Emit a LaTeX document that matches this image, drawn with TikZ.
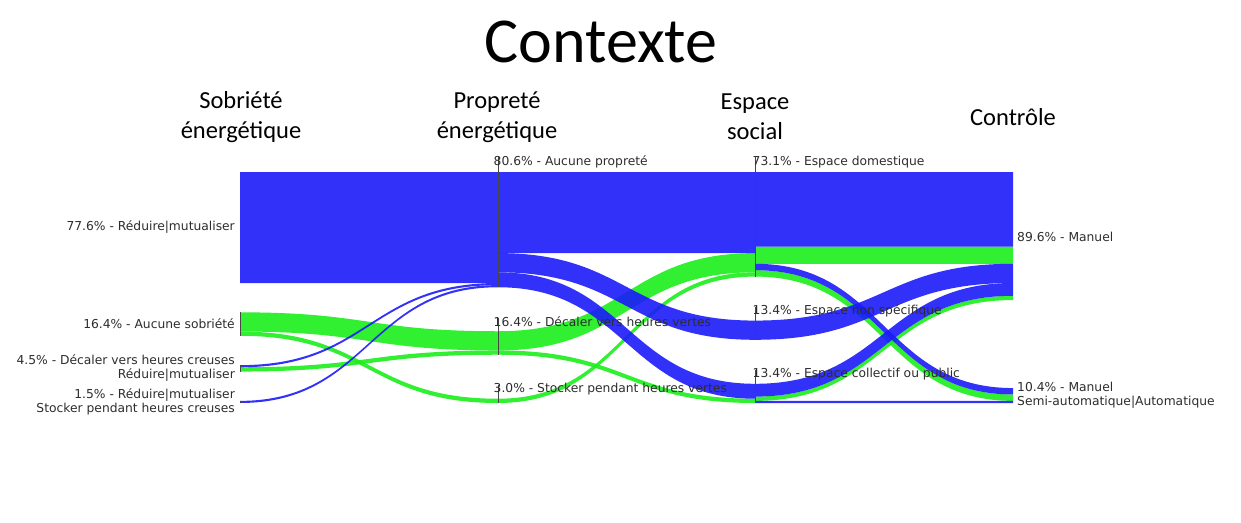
\documentclass[tikz,border=0pt]{standalone}
\usepackage{fontspec}
\setmainfont{DejaVu Sans}
\newfontfamily\headfont{Carlito}
\definecolor{pblue}{RGB}{27,27,250}
\definecolor{pgreen}{RGB}{27,238,27}
\definecolor{labgray}{RGB}{45,45,45}
\definecolor{axgray}{RGB}{70,70,70}
\newcommand{\flowband}[7]{%
  \fill[#1] (#2,#3) .. controls ({(#2+#5)/2},#3) and ({(#2+#5)/2},#6) .. (#5,#6)
     -- (#5,#7) .. controls ({(#2+#5)/2},#7) and ({(#2+#5)/2},#4) .. (#2,#4) -- cycle;}
\begin{document}
\begin{tikzpicture}[x=1pt,y=-1pt,
  bandB/.style={fill=pblue,fill opacity=0.9},
  bandG/.style={fill=pgreen,fill opacity=0.9},
  catline/.style={draw=axgray,line width=1pt},
  catlab/.style={font=\fontsize{12.3}{14}\selectfont,text=labgray,inner sep=0pt},
  head/.style={font=\headfont\fontsize{24.5}{30}\selectfont,align=center,inner sep=0pt}]
\useasboundingbox[fill=white] (0,0) rectangle (1241,522);

% green ribbons
\flowband{bandG}{240}{312.33}{331.54}{498}{331.25}{350.46}
\flowband{bandG}{240}{331.54}{335.81}{498}{398.73}{403.0}
\flowband{bandG}{240}{367.27}{371.54}{498}{350.46}{354.73}
\flowband{bandG}{498}{331.25}{350.46}{755}{253.10}{272.31}
\flowband{bandG}{498}{350.46}{354.73}{755}{398.73}{403.0}
\flowband{bandG}{498}{398.73}{403.0}{755}{272.31}{276.58}
\flowband{bandG}{755}{246.70}{263.78}{1013}{246.70}{263.78}
\flowband{bandG}{755}{270.18}{276.58}{1013}{394.46}{400.87}
\flowband{bandG}{755}{396.60}{400.87}{1013}{295.80}{300.06}
% blue ribbons
\flowband{bandB}{240}{172}{283.0}{498}{172}{283.0}
\flowband{bandB}{240}{365.14}{367.27}{498}{283.0}{285.12}
\flowband{bandB}{240}{400.87}{403.0}{498}{285.12}{287.25}
\flowband{bandB}{498}{172}{253.10}{755}{172}{253.10}
\flowband{bandB}{498}{253.10}{272.31}{755}{320.58}{339.79}
\flowband{bandB}{498}{272.31}{287.25}{755}{383.79}{398.73}
\flowband{bandB}{755}{172}{246.70}{1013}{172}{246.70}
\flowband{bandB}{755}{263.78}{270.18}{1013}{388.06}{394.46}
\flowband{bandB}{755}{320.58}{339.79}{1013}{263.78}{282.99}
\flowband{bandB}{755}{383.79}{396.60}{1013}{282.99}{295.80}
\flowband{bandB}{755}{400.87}{403.0}{1013}{400.87}{403.0}

% category lines
\draw[catline] (240,312.33) -- (240,335.81);
\draw[catline] (240,365.14) -- (240,371.54);
\draw[catline] (240,400.87) -- (240,403.0);
\draw[catline] (498,157) -- (498,287.25);
\draw[catline] (498,318) -- (498,354.73);
\draw[catline] (498,385) -- (498,403.0);
\draw[catline] (755,157) -- (755,276.58);
\draw[catline] (755,307) -- (755,339.79);
\draw[catline] (755,370) -- (755,403.0);

% title and headers
\node[font=\headfont\fontsize{64}{70}\selectfont,anchor=base,inner sep=0pt] (title) at (601,62) {Contexte};
\node[head] (h1) at (241,117) {Sobriété\\énergétique};
\node[head] (h2) at (497,117) {Propreté\\énergétique};
\node[head] (h3) at (755,117) {Espace\\social};
\node[head] (h4) at (1013,117) {Contrôle};

% labels column 1
\node[catlab,anchor=east] (s1) at (235,227.5) {77.6\% - Réduire|mutualiser};
\node[catlab,anchor=east] (s2) at (235,324.1) {16.4\% - Aucune sobriété};
\node[catlab,anchor=east,align=right] (s3) at (235,368.3) {4.5\% - Décaler vers heures creuses\\Réduire|mutualiser};
\node[catlab,anchor=east,align=right] (s4) at (235,401.5) {1.5\% - Réduire|mutualiser\\Stocker pendant heures creuses};
% labels column 2
\node[catlab,anchor=west] (p1) at (493.5,162) {80.6\% - Aucune propreté};
\node[catlab,anchor=west] (p2) at (493.5,321.3) {16.4\% - Décaler vers heures vertes};
\node[catlab,anchor=west] (p3) at (493.5,388.7) {3.0\% - Stocker pendant heures vertes};
% labels column 3
\node[catlab,anchor=west] (e1) at (752.5,162) {73.1\% - Espace domestique};
\node[catlab,anchor=west] (e2) at (752.5,310.6) {13.4\% - Espace non spécifique};
\node[catlab,anchor=west] (e3) at (752.5,373.8) {13.4\% - Espace collectif ou public};
% labels column 4
\node[catlab,anchor=west] (c1) at (1017,236.5) {89.6\% - Manuel};
\node[catlab,anchor=west,align=left] (c2) at (1017,395) {10.4\% - Manuel\\Semi-automatique|Automatique};
\end{tikzpicture}
\end{document}
